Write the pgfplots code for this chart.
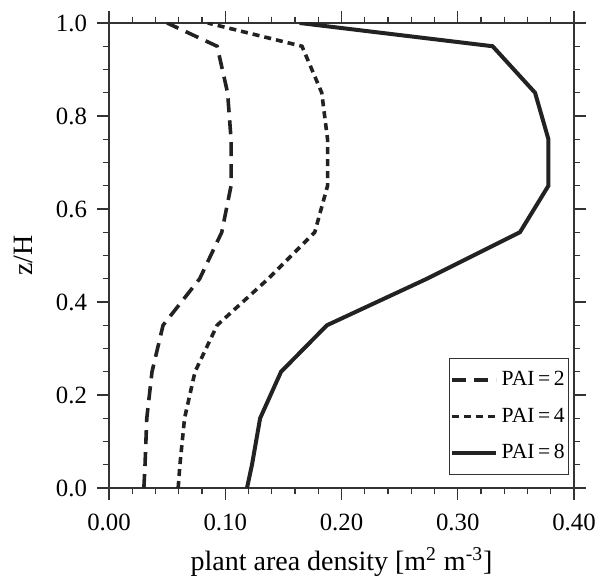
\documentclass[border=0pt]{standalone}
\usepackage{pgfplots}
\pgfplotsset{compat=1.18}
\usepackage{fontspec}
\setmainfont{Liberation Serif}
\definecolor{ln}{HTML}{222222}
\definecolor{ax}{HTML}{333333}
\begin{document}
\begin{tikzpicture}
\begin{axis}[
  scale only axis,
  width=232.5pt, height=232.5pt,
  xmin=0, xmax=0.4, ymin=0, ymax=1,
  axis line style={ax, line width=0.6pt},
  every tick/.style={ax, line width=0.6pt},
  tick align=outside,
  major tick length=6pt, minor tick length=3.2pt,
  xtick={0,0.1,0.2,0.3,0.4},
  xticklabels={0.00,0.10,0.20,0.30,0.40},
  ytick={0,0.2,0.4,0.6,0.8,1.0},
  yticklabels={0.0,0.2,0.4,0.6,0.8,1.0},
  minor x tick num=4, minor y tick num=3,
  xtick pos=both, ytick pos=both,
  xticklabel pos=bottom, yticklabel pos=left,
  tick label style={font=\fontsize{12.4}{14}\selectfont},
  xticklabel style={yshift=-3.5pt},
  yticklabel style={xshift=-1.5pt},
  /pgf/number format/assume math mode=true,
  xlabel={plant area density [m\textsuperscript{2} m\textsuperscript{-3}]},
  ylabel={z/H},
  label style={font=\fontsize{14}{16}\selectfont},
  xlabel style={at={(axis description cs:0.5,-0.112)}, anchor=north},
  ylabel style={at={(axis description cs:-0.148,0.5)}, anchor=south},
  legend style={at={(rel axis cs:0.99,0.028)}, anchor=south east,
    draw=ax, line width=0.6pt, font=\fontsize{10.8}{12}\selectfont,
    row sep=5.5pt, inner xsep=0pt, inner ysep=4.5pt},
  legend cell align=left,
  legend image code/.code={\draw[#1] (0pt,0pt) -- (22pt,0pt);},
]
\addplot[ln, line width=1.8pt, dash pattern=on 7pt off 4pt] coordinates {
(0.030,0) (0.031,0.05) (0.0325,0.15) (0.037,0.25) (0.0465,0.35) (0.078,0.45)
(0.097,0.55) (0.105,0.65) (0.105,0.75) (0.102,0.85) (0.093,0.95) (0.050,1.0)};
\addlegendentry{PAI\,=\,2}
\addplot[ln, line width=1.8pt, dash pattern=on 3.5pt off 2.5pt] coordinates {
(0.0595,0) (0.061,0.05) (0.065,0.15) (0.074,0.25) (0.093,0.35) (0.137,0.45)
(0.177,0.55) (0.188,0.65) (0.188,0.75) (0.183,0.85) (0.166,0.95) (0.085,1.0)};
\addlegendentry{PAI\,=\,4}
\addplot[ln, line width=2pt] coordinates {
(0.1187,0) (0.123,0.05) (0.130,0.15) (0.148,0.25) (0.1875,0.35) (0.2735,0.45)
(0.3535,0.55) (0.378,0.65) (0.378,0.75) (0.3665,0.85) (0.330,0.95) (0.164,1.0)};
\addlegendentry{PAI\,=\,8}
\end{axis}
\pgfresetboundingbox
\path (current axis.south west) ++(-54.5pt,-44pt) coordinate (bl);
\path (current axis.north east) ++(14pt,11.5pt) coordinate (tr);
\path[use as bounding box] (bl) rectangle (tr);
\end{tikzpicture}
\end{document}
